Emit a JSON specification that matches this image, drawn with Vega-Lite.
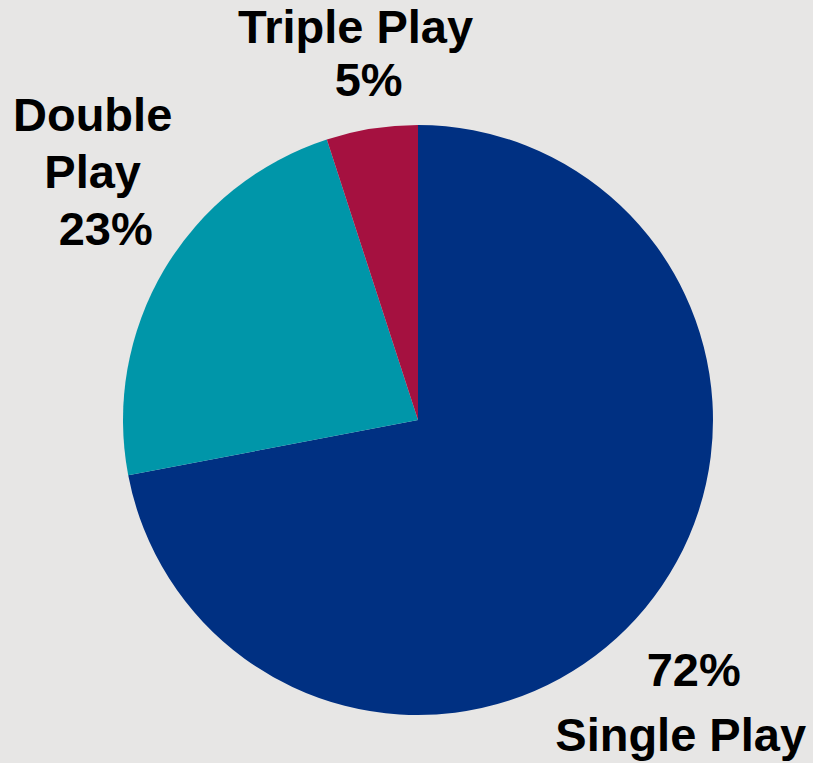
{
  "$schema": "https://vega.github.io/schema/vega-lite/v6.json",
  "width": 790,
  "height": 686,
  "autosize": {"type": "none"},
  "padding": {"left": 23, "top": 77, "right": 0, "bottom": 0},
  "background": "#e7e6e5",
  "config": {"view": {"stroke": null}, "text": {"font": "Liberation Sans", "fontWeight": "bold", "fontSize": 47, "lineBreak": "\n", "color": "#000000"}},
  "data": {"values": [
    {"category": "Single Play", "value": 72, "label": "\u200b\u00a0\u00a072%\nSingle Play"},
    {"category": "Double Play", "value": 23, "label": "Double\nPlay\n\u200b\u00a0\u00a023%"},
    {"category": "Triple Play", "value": 5, "label": "Triple Play\n\u200b\u00a0\u00a05%"}
  ]},
  "encoding": {
    "theta": {"field": "value", "type": "quantitative", "stack": true},
    "order": {"field": "value", "type": "quantitative", "sort": "descending"}
  },
  "layer": [
    {
      "mark": {"type": "arc", "outerRadius": 295},
      "encoding": {
        "color": {"field": "category", "type": "nominal", "legend": null,
          "scale": {"domain": ["Single Play", "Double Play", "Triple Play"], "range": ["#003082", "#0096a9", "#a51140"]}}
      }
    },
    {
      "mark": {"type": "text", "radius": 367, "dx": -5, "dy": -29, "lineHeight": 53, "align": "center", "baseline": "middle"},
      "encoding": {"text": {"condition": {"test": "datum.category === 'Triple Play'", "field": "label"}, "value": ""}}
    },
    {
      "mark": {"type": "text", "radius": 378, "dx": 0, "dy": -111, "lineHeight": 57, "align": "center", "baseline": "middle"},
      "encoding": {"text": {"condition": {"test": "datum.category === 'Double Play'", "field": "label"}, "value": ""}}
    },
    {
      "mark": {"type": "text", "radius": 350, "dx": -7, "dy": 29, "lineHeight": 65, "align": "center", "baseline": "middle"},
      "encoding": {"text": {"condition": {"test": "datum.category === 'Single Play'", "field": "label"}, "value": ""}}
    }
  ]
}
